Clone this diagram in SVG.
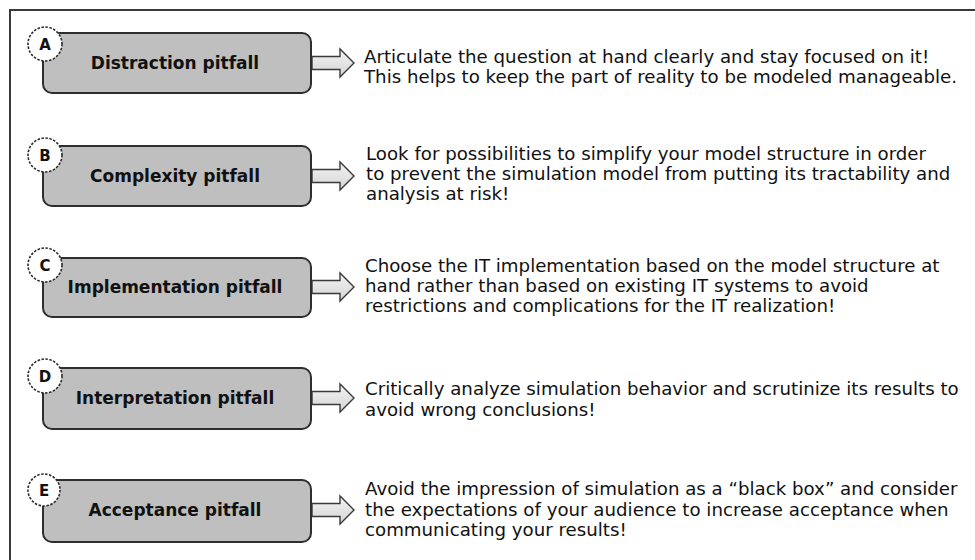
<svg xmlns="http://www.w3.org/2000/svg" width="975" height="560" viewBox="0 0 975 560">
<defs>
<style>
.frame{fill:none;stroke:#3a3a3a;stroke-width:2}
.box{fill:#bfbfbf;stroke:#2e2e2e;stroke-width:2}
.badge{fill:#ffffff;stroke:#2a2a2a;stroke-width:1.6;stroke-dasharray:2.5 1.5}
.badge-t{font-family:"DejaVu Sans",sans-serif;font-size:15px;font-weight:bold;fill:#111;text-anchor:middle}
.lbl{font-family:"DejaVu Sans",sans-serif;font-size:17px;font-weight:bold;fill:#111;text-anchor:middle}
.desc{font-family:"DejaVu Sans",sans-serif;font-size:18.2px;fill:#111}
.arr{fill:url(#ag);stroke:#3a3a3a;stroke-width:1.4;stroke-linejoin:miter}
</style>
<linearGradient id="ag" x1="0" y1="0" x2="0" y2="1">
<stop offset="0" stop-color="#f4f4f4"/>
<stop offset="1" stop-color="#d4d4d4"/>
</linearGradient>
<path id="arrow" class="arr" d="M0,-6.5 H28 V-14 L42,0 L28,14 V6.5 H0 Z"/>
</defs>
<rect width="975" height="560" fill="#ffffff"/>
<path class="frame" d="M10,560 V10 H975"/>

<g id="connectors">
<use href="#arrow" x="312" y="63"/>
<use href="#arrow" x="312" y="176"/>
<use href="#arrow" x="312" y="287"/>
<use href="#arrow" x="312" y="398"/>
<use href="#arrow" x="312" y="510"/>
</g>

<g id="node-a">
<rect class="box" x="43" y="33" width="268" height="60" rx="9"/>
<circle class="badge" cx="45" cy="44" r="17"/>
<text class="badge-t" x="45" y="49.5">A</text>
<text class="lbl" x="175" y="69">Distraction pitfall</text>
</g>
<g id="desc-a">
<text class="desc" x="364" y="63">Articulate the question at hand clearly and stay focused on it!</text>
<text class="desc" x="364" y="83">This helps to keep the part of reality to be modeled manageable.</text>
</g>

<g id="node-b">
<rect class="box" x="43" y="146" width="268" height="60" rx="9"/>
<circle class="badge" cx="45" cy="155" r="17"/>
<text class="badge-t" x="45" y="160.5">B</text>
<text class="lbl" x="175" y="182">Complexity pitfall</text>
</g>
<g id="desc-b">
<text class="desc" x="366" y="160">Look for possibilities to simplify your model structure in order</text>
<text class="desc" x="366" y="180">to prevent the simulation model from putting its tractability and</text>
<text class="desc" x="366" y="200">analysis at risk!</text>
</g>

<g id="node-c">
<rect class="box" x="43" y="258" width="268" height="59" rx="9"/>
<circle class="badge" cx="45" cy="265" r="17"/>
<text class="badge-t" x="45" y="270.5">C</text>
<text class="lbl" x="175" y="293">Implementation pitfall</text>
</g>
<g id="desc-c">
<text class="desc" x="365" y="272">Choose the IT implementation based on the model structure at</text>
<text class="desc" x="365" y="292">hand rather than based on existing IT systems to avoid</text>
<text class="desc" x="365" y="312">restrictions and complications for the IT realization!</text>
</g>

<g id="node-d">
<rect class="box" x="43" y="368" width="268" height="61" rx="9"/>
<circle class="badge" cx="45" cy="376" r="17"/>
<text class="badge-t" x="45" y="381.5">D</text>
<text class="lbl" x="175" y="404">Interpretation pitfall</text>
</g>
<g id="desc-d">
<text class="desc" x="365" y="395">Critically analyze simulation behavior and scrutinize its results to</text>
<text class="desc" x="365" y="416">avoid wrong conclusions!</text>
</g>

<g id="node-e">
<rect class="box" x="43" y="480" width="268" height="62" rx="9"/>
<circle class="badge" cx="44" cy="490" r="16"/>
<text class="badge-t" x="44" y="495.5" font-weight="normal">E</text>
<text class="lbl" x="175" y="516">Acceptance pitfall</text>
</g>
<g id="desc-e">
<text class="desc" x="365" y="495">Avoid the impression of simulation as a “black box” and consider</text>
<text class="desc" x="365" y="516">the expectations of your audience to increase acceptance when</text>
<text class="desc" x="365" y="536">communicating your results!</text>
</g>
</svg>
